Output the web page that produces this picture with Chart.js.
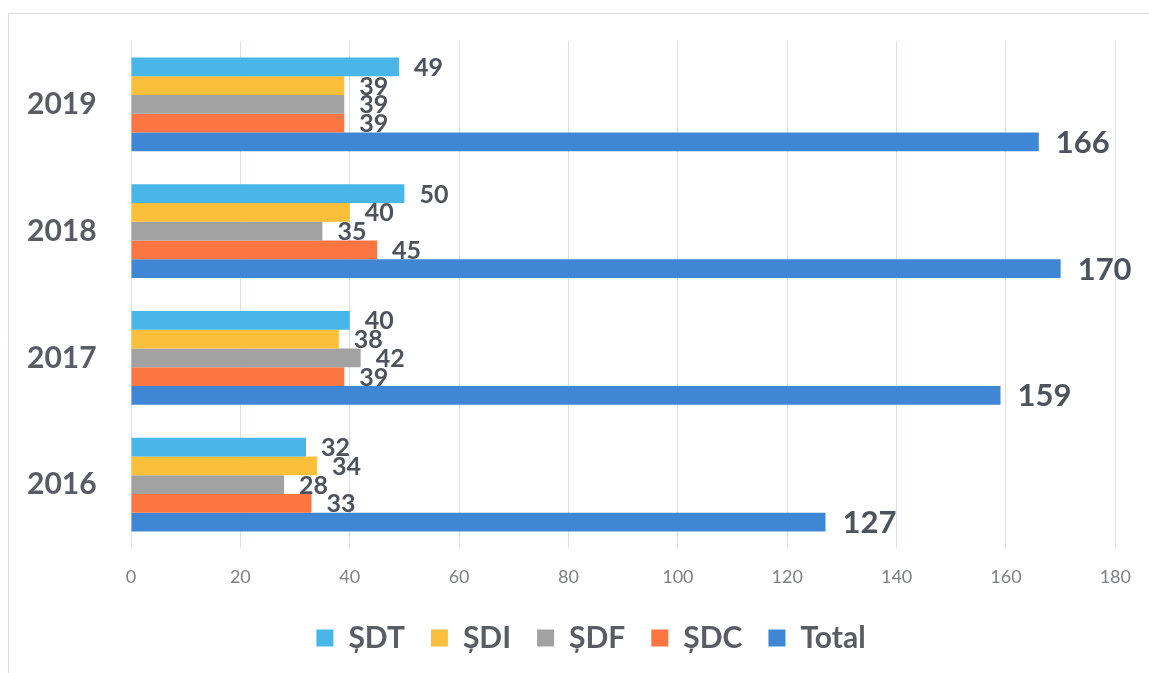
<!DOCTYPE html>
<html>
<head>
<meta charset="utf-8">
<title>ȘDT / ȘDI / ȘDF / ȘDC</title>
<script src="https://cdn.jsdelivr.net/npm/chart.js@4/dist/chart.umd.min.js"></script>
<style>
    body { margin: 0; background: #ffffff; }
    .chart-container { position: relative; width: 1149px; height: 673px; }
</style>
</head>
<body>
<div class="chart-container">
    <canvas id="myChart"></canvas>
</div>
<script>
// data
const years = ['2019', '2018', '2017', '2016'];
const sdt = [49, 50, 40, 32];
const sdi = [39, 40, 38, 34];
const sdf = [39, 35, 42, 28];
const sdc = [39, 45, 39, 33];
const total = [166, 170, 159, 127];
const xTicks = [0, 20, 40, 60, 80, 100, 120, 140, 160, 180];

Chart.defaults.font.family = 'Lato, "Open Sans", sans-serif';

// thin frame on the top and left, like the scanned page
const framePlugin = {
    id: 'frame',
    afterLayout(chart) {
        // the legend sits a bit right of the canvas centre in the original
        chart.legend.left += 18;
        chart.legend.right += 18;
    },
    beforeDraw(chart) {
        const ctx = chart.ctx;
        ctx.save();
        ctx.strokeStyle = '#d5dbe4';
        ctx.lineWidth = 1;
        ctx.beginPath();
        ctx.moveTo(8.5, chart.height);
        ctx.lineTo(8.5, 13.5);
        ctx.lineTo(chart.width, 13.5);
        ctx.stroke();
        ctx.restore();
    }
};

// value labels at the end of every bar
const valueLabels = {
    id: 'valueLabels',
    afterDatasetsDraw(chart) {
        const ctx = chart.ctx;
        ctx.save();
        ctx.fillStyle = '#4e535b';
        ctx.textAlign = 'left';
        ctx.textBaseline = 'middle';
        chart.data.datasets.forEach((ds, i) => {
            const meta = chart.getDatasetMeta(i);
            const isTotal = ds.label === 'Total';
            ctx.font = 'bold ' + (isTotal ? 31 : 25) + 'px Lato, sans-serif';
            meta.data.forEach((bar, j) => {
                ctx.fillText(String(ds.data[j]), bar.x + (isTotal ? 17 : 15), bar.y + 1);
            });
        });
        ctx.restore();
    }
};

const ctx = document.getElementById('myChart');
new Chart(ctx, {
    type: 'bar',
    data: {
        labels: years,
        datasets: [
            { label: 'ȘDT', data: sdt, backgroundColor: '#48b6e9' },
            { label: 'ȘDI', data: sdi, backgroundColor: '#fbbf3a' },
            { label: 'ȘDF', data: sdf, backgroundColor: '#a2a2a2' },
            { label: 'ȘDC', data: sdc, backgroundColor: '#fd7542' },
            { label: 'Total', data: total, backgroundColor: '#3f87d5' }
        ]
    },
    options: {
        indexAxis: 'y',
        responsive: true,
        maintainAspectRatio: false,
        animation: false,
        datasets: {
            bar: {
                barPercentage: 1,
                categoryPercentage: 0.74,
                borderWidth: 0
            }
        },
        layout: {
            padding: { top: 41, left: 27, right: 30, bottom: 10 }
        },
        scales: {
            x: {
                min: 0,
                max: 180,
                afterBuildTicks: (scale) => {
                    scale.ticks = xTicks.map(v => ({ value: v }));
                },
                afterFit: (scale) => { scale.height = 49; },
                grid: { color: '#dbe1ea', drawTicks: false },
                border: { display: false },
                ticks: {
                    color: '#7d7f84',
                    font: { size: 18 },
                    padding: 18
                }
            },
            y: {
                afterFit: (scale) => { scale.width = 104; },
                grid: { display: false, drawTicks: false },
                border: { display: false },
                ticks: {
                    color: '#595c63',
                    font: { size: 30, weight: 'bold' },
                    crossAlign: 'far',
                    padding: 0
                }
            }
        },
        plugins: {
            legend: {
                position: 'bottom',
                labels: {
                    color: '#595c63',
                    boxWidth: 17,
                    boxHeight: 17,
                    padding: 26,
                    font: { size: 30, weight: 'bold' }
                }
            },
            tooltip: { enabled: false }
        }
    },
    plugins: [framePlugin, valueLabels]
});
</script>
</body>
</html>
